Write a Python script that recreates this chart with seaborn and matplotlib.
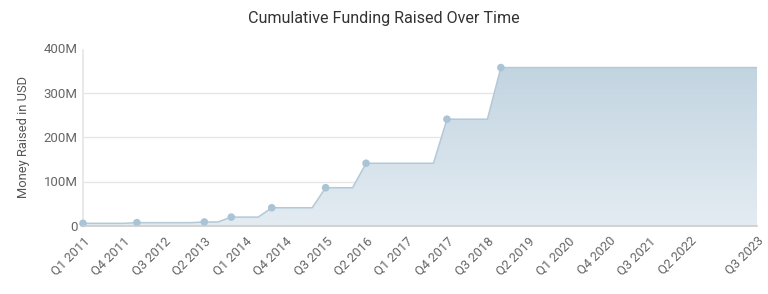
import numpy as np
import pandas as pd
import matplotlib
matplotlib.use("Agg")
import matplotlib.pyplot as plt
import seaborn as sns
from matplotlib.patches import Polygon

# ---- data ----
round_quarters = ["Q1 2011", "Q1 2012", "Q2 2013", "Q4 2013", "Q3 2014",
                  "Q3 2015", "Q2 2016", "Q4 2017", "Q4 2018"]
cumulative_musd = [6, 7.5, 9, 20, 41, 86, 141, 240, 356]
tick_labels = ["Q1 2011", "Q4 2011", "Q3 2012", "Q2 2013", "Q1 2014", "Q4 2014",
               "Q3 2015", "Q2 2016", "Q1 2017", "Q4 2017", "Q3 2018", "Q2 2019",
               "Q1 2020", "Q4 2020", "Q3 2021", "Q2 2022", "Q3 2023"]
y_ticks = [0, 100, 200, 300, 400]
y_tick_labels = ["0", "100M", "200M", "300M", "400M"]

# all quarters on the axis
periods = pd.period_range("2011Q1", "2023Q3", freq="Q")
quarters = [f"Q{p.quarter} {p.year}" for p in periods]

# cumulative series per quarter (value holds between rounds)
rounds = pd.Series(cumulative_musd, index=round_quarters)
series = rounds.reindex(quarters).ffill()
df = pd.DataFrame({"idx": np.arange(len(quarters)), "quarter": quarters,
                   "value": series.values})
pts = pd.DataFrame({"idx": [quarters.index(q) for q in round_quarters],
                    "value": cumulative_musd})

sns.set_theme(style="white")
plt.rcParams["font.family"] = ["Roboto", "DejaVu Sans"]

fig = plt.figure(figsize=(7.68, 2.94), dpi=100)
ax = fig.add_axes([83/768, 1-226/294, 674/768, 178/294])

# gradient fill under the line
x = df["idx"].values
y = df["value"].values
verts = [(x[0], 0)] + list(zip(x, y)) + [(x[-1], 0)]
poly = Polygon(verts, closed=True, facecolor="none", edgecolor="none")
ax.add_patch(poly)
top_c = np.array([0xc2, 0xd4, 0xe1]) / 255
bot_c = np.array([0xe4, 0xec, 0xf2]) / 255
t = np.linspace(0, 1, 256)[:, None]
grad = (bot_c[None, :] * (1 - t) + top_c[None, :] * t)[:, None, :]
im = ax.imshow(grad, extent=[x[0], x[-1], 0, 360], origin="lower",
               aspect="auto", zorder=1)
im.set_clip_path(poly)

sns.lineplot(data=df, x="idx", y="value", ax=ax, color="#b3c9d8",
             linewidth=1.1, zorder=3)
sns.scatterplot(data=pts, x="idx", y="value", ax=ax, color="#aac3d5",
                s=30, edgecolor="none", zorder=4, clip_on=False)

ax.set_xlim(0, len(quarters) - 1)
ax.set_ylim(0, 400)
ax.set_yticks(y_ticks)
ax.set_yticklabels(y_tick_labels, color="#666666", fontsize=9.5)
ax.set_xticks([quarters.index(q) for q in tick_labels])
ax.set_xticklabels(tick_labels, rotation=45, ha="right",
                   rotation_mode="anchor", color="#666666", fontsize=9.3)
ax.tick_params(axis="both", length=0, pad=4)
ax.tick_params(axis="x", pad=6)
ax.set_xlabel("")
ax.set_ylabel("Money Raised in USD", color="#555555", fontsize=9.3, labelpad=10)

for v in [100, 200, 300]:
    ax.axhline(v, color="#e6e6e6", linewidth=1, zorder=0)

for s in ["top", "right"]:
    ax.spines[s].set_visible(False)
ax.spines["left"].set_color("#e6e6e6")
ax.spines["left"].set_bounds(0, 395)
ax.spines["bottom"].set_color("#cccccc")
ax.spines["bottom"].set_linewidth(1.2)
ax.spines["bottom"].set_zorder(5)

fig.text(0.5, 1-18/294, "Cumulative Funding Raised Over Time",
         ha="center", va="center", fontsize=11.6, color="#333333")

fig.savefig("out.png", dpi=100)
